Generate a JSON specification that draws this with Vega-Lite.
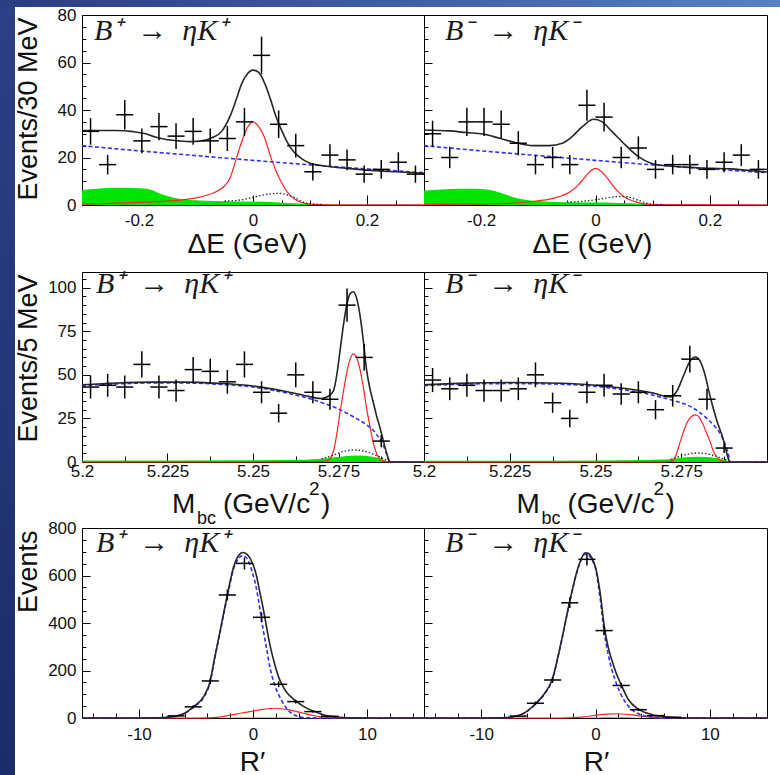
{
  "$schema": "https://vega.github.io/schema/vega-lite/v6.json",
  "padding": 0,
  "background": "white",
  "spacing": 0,
  "bounds": "flush",
  "config": {
    "font": "Liberation Sans",
    "view": {"stroke": "black", "strokeWidth": 1},
    "axis": {
      "domain": false, "grid": false,
      "labelFont": "Liberation Sans", "labelFontSize": 17, "labelColor": "#111",
      "labelFlush": false, "labelOverlap": false, "labelBound": false,
      "tickColor": "black", "tickWidth": 1,
      "titleFont": "Liberation Sans", "titleFontSize": 27, "titleFontWeight": "normal", "titleColor": "#111"
    }
  },
  "datasets": {
    "de_p_pts": [
      {"x": -0.285, "n": 31, "lo": 25.4, "hi": 36.6, "xlo": -0.3, "xhi": -0.27},
      {"x": -0.255, "n": 17, "lo": 12.9, "hi": 21.1, "xlo": -0.27, "xhi": -0.24},
      {"x": -0.225, "n": 38, "lo": 31.8, "hi": 44.2, "xlo": -0.24, "xhi": -0.21},
      {"x": -0.195, "n": 27, "lo": 21.8, "hi": 32.2, "xlo": -0.21, "xhi": -0.18},
      {"x": -0.165, "n": 33, "lo": 27.3, "hi": 38.7, "xlo": -0.18, "xhi": -0.15},
      {"x": -0.135, "n": 29, "lo": 23.6, "hi": 34.4, "xlo": -0.15, "xhi": -0.12},
      {"x": -0.105, "n": 31, "lo": 25.4, "hi": 36.6, "xlo": -0.12, "xhi": -0.09},
      {"x": -0.075, "n": 27, "lo": 21.8, "hi": 32.2, "xlo": -0.09, "xhi": -0.06},
      {"x": -0.045, "n": 28, "lo": 22.7, "hi": 33.3, "xlo": -0.06, "xhi": -0.03},
      {"x": -0.015, "n": 35, "lo": 29.1, "hi": 40.9, "xlo": -0.03, "xhi": 0},
      {"x": 0.015, "n": 63, "lo": 55.1, "hi": 70.9, "xlo": 0, "xhi": 0.03},
      {"x": 0.045, "n": 34, "lo": 28.2, "hi": 39.8, "xlo": 0.03, "xhi": 0.06},
      {"x": 0.075, "n": 25, "lo": 20, "hi": 30, "xlo": 0.06, "xhi": 0.09},
      {"x": 0.105, "n": 14, "lo": 10.3, "hi": 17.7, "xlo": 0.09, "xhi": 0.12},
      {"x": 0.135, "n": 21, "lo": 16.4, "hi": 25.6, "xlo": 0.12, "xhi": 0.15},
      {"x": 0.165, "n": 19, "lo": 14.6, "hi": 23.4, "xlo": 0.15, "xhi": 0.18},
      {"x": 0.195, "n": 13, "lo": 9.4, "hi": 16.6, "xlo": 0.18, "xhi": 0.21},
      {"x": 0.225, "n": 15, "lo": 11.1, "hi": 18.9, "xlo": 0.21, "xhi": 0.24},
      {"x": 0.255, "n": 18, "lo": 13.8, "hi": 22.2, "xlo": 0.24, "xhi": 0.27},
      {"x": 0.285, "n": 13, "lo": 9.4, "hi": 16.6, "xlo": 0.27, "xhi": 0.3}
    ],
    "de_m_pts": [
      {"x": -0.285, "n": 30, "lo": 24.5, "hi": 35.5, "xlo": -0.3, "xhi": -0.27},
      {"x": -0.255, "n": 20, "lo": 15.5, "hi": 24.5, "xlo": -0.27, "xhi": -0.24},
      {"x": -0.225, "n": 35, "lo": 29.1, "hi": 40.9, "xlo": -0.24, "xhi": -0.21},
      {"x": -0.195, "n": 35, "lo": 29.1, "hi": 40.9, "xlo": -0.21, "xhi": -0.18},
      {"x": -0.165, "n": 34, "lo": 28.2, "hi": 39.8, "xlo": -0.18, "xhi": -0.15},
      {"x": -0.135, "n": 26, "lo": 20.9, "hi": 31.1, "xlo": -0.15, "xhi": -0.12},
      {"x": -0.105, "n": 17, "lo": 12.9, "hi": 21.1, "xlo": -0.12, "xhi": -0.09},
      {"x": -0.075, "n": 20, "lo": 15.5, "hi": 24.5, "xlo": -0.09, "xhi": -0.06},
      {"x": -0.045, "n": 17, "lo": 12.9, "hi": 21.1, "xlo": -0.06, "xhi": -0.03},
      {"x": -0.015, "n": 42, "lo": 35.5, "hi": 48.5, "xlo": -0.03, "xhi": 0},
      {"x": 0.015, "n": 37, "lo": 30.9, "hi": 43.1, "xlo": 0, "xhi": 0.03},
      {"x": 0.045, "n": 20, "lo": 15.5, "hi": 24.5, "xlo": 0.03, "xhi": 0.06},
      {"x": 0.075, "n": 24, "lo": 19.1, "hi": 28.9, "xlo": 0.06, "xhi": 0.09},
      {"x": 0.105, "n": 15, "lo": 11.1, "hi": 18.9, "xlo": 0.09, "xhi": 0.12},
      {"x": 0.135, "n": 17, "lo": 12.9, "hi": 21.1, "xlo": 0.12, "xhi": 0.15},
      {"x": 0.165, "n": 17, "lo": 12.9, "hi": 21.1, "xlo": 0.15, "xhi": 0.18},
      {"x": 0.195, "n": 15, "lo": 11.1, "hi": 18.9, "xlo": 0.18, "xhi": 0.21},
      {"x": 0.225, "n": 18, "lo": 13.8, "hi": 22.2, "xlo": 0.21, "xhi": 0.24},
      {"x": 0.255, "n": 21, "lo": 16.4, "hi": 25.6, "xlo": 0.24, "xhi": 0.27},
      {"x": 0.285, "n": 15, "lo": 11.1, "hi": 18.9, "xlo": 0.27, "xhi": 0.3}
    ],
    "mbc_p_pts": [
      {"x": 5.2025, "n": 43, "lo": 36.4, "hi": 49.6, "xlo": 5.2, "xhi": 5.205},
      {"x": 5.2075, "n": 44, "lo": 37.4, "hi": 50.6, "xlo": 5.205, "xhi": 5.21},
      {"x": 5.2125, "n": 43, "lo": 36.4, "hi": 49.6, "xlo": 5.21, "xhi": 5.215},
      {"x": 5.2175, "n": 56, "lo": 48.5, "hi": 63.5, "xlo": 5.215, "xhi": 5.22},
      {"x": 5.2225, "n": 43, "lo": 36.4, "hi": 49.6, "xlo": 5.22, "xhi": 5.225},
      {"x": 5.2275, "n": 41, "lo": 34.6, "hi": 47.4, "xlo": 5.225, "xhi": 5.23},
      {"x": 5.2325, "n": 53, "lo": 45.7, "hi": 60.3, "xlo": 5.23, "xhi": 5.235},
      {"x": 5.2375, "n": 52, "lo": 44.8, "hi": 59.2, "xlo": 5.235, "xhi": 5.24},
      {"x": 5.2425, "n": 46, "lo": 39.2, "hi": 52.8, "xlo": 5.24, "xhi": 5.245},
      {"x": 5.2475, "n": 56, "lo": 48.5, "hi": 63.5, "xlo": 5.245, "xhi": 5.25},
      {"x": 5.2525, "n": 40, "lo": 33.7, "hi": 46.3, "xlo": 5.25, "xhi": 5.255},
      {"x": 5.2575, "n": 28, "lo": 22.7, "hi": 33.3, "xlo": 5.255, "xhi": 5.26},
      {"x": 5.2625, "n": 50, "lo": 42.9, "hi": 57.1, "xlo": 5.26, "xhi": 5.265},
      {"x": 5.2675, "n": 40, "lo": 33.7, "hi": 46.3, "xlo": 5.265, "xhi": 5.27},
      {"x": 5.2725, "n": 36, "lo": 30, "hi": 42, "xlo": 5.27, "xhi": 5.275},
      {"x": 5.2775, "n": 90, "lo": 80.5, "hi": 99.5, "xlo": 5.275, "xhi": 5.28},
      {"x": 5.2825, "n": 60, "lo": 52.3, "hi": 67.7, "xlo": 5.28, "xhi": 5.285},
      {"x": 5.2875, "n": 12, "lo": 8.5, "hi": 15.5, "xlo": 5.285, "xhi": 5.29}
    ],
    "mbc_m_pts": [
      {"x": 5.2025, "n": 47, "lo": 40.1, "hi": 53.9, "xlo": 5.2, "xhi": 5.205},
      {"x": 5.2075, "n": 42, "lo": 35.5, "hi": 48.5, "xlo": 5.205, "xhi": 5.21},
      {"x": 5.2125, "n": 44, "lo": 37.4, "hi": 50.6, "xlo": 5.21, "xhi": 5.215},
      {"x": 5.2175, "n": 41, "lo": 34.6, "hi": 47.4, "xlo": 5.215, "xhi": 5.22},
      {"x": 5.2225, "n": 41, "lo": 34.6, "hi": 47.4, "xlo": 5.22, "xhi": 5.225},
      {"x": 5.2275, "n": 42, "lo": 35.5, "hi": 48.5, "xlo": 5.225, "xhi": 5.23},
      {"x": 5.2325, "n": 50, "lo": 42.9, "hi": 57.1, "xlo": 5.23, "xhi": 5.235},
      {"x": 5.2375, "n": 34, "lo": 28.2, "hi": 39.8, "xlo": 5.235, "xhi": 5.24},
      {"x": 5.2425, "n": 25, "lo": 20, "hi": 30, "xlo": 5.24, "xhi": 5.245},
      {"x": 5.2475, "n": 40, "lo": 33.7, "hi": 46.3, "xlo": 5.245, "xhi": 5.25},
      {"x": 5.2525, "n": 44, "lo": 37.4, "hi": 50.6, "xlo": 5.25, "xhi": 5.255},
      {"x": 5.2575, "n": 39, "lo": 32.8, "hi": 45.2, "xlo": 5.255, "xhi": 5.26},
      {"x": 5.2625, "n": 40, "lo": 33.7, "hi": 46.3, "xlo": 5.26, "xhi": 5.265},
      {"x": 5.2675, "n": 30, "lo": 24.5, "hi": 35.5, "xlo": 5.265, "xhi": 5.27},
      {"x": 5.2725, "n": 38, "lo": 31.8, "hi": 44.2, "xlo": 5.27, "xhi": 5.275},
      {"x": 5.2775, "n": 59, "lo": 51.3, "hi": 66.7, "xlo": 5.275, "xhi": 5.28},
      {"x": 5.2825, "n": 36, "lo": 30, "hi": 42, "xlo": 5.28, "xhi": 5.285},
      {"x": 5.2875, "n": 8, "lo": 5.2, "hi": 10.8, "xlo": 5.285, "xhi": 5.29}
    ],
    "r_p_pts": [
      {"x": -6.75, "n": 9, "lo": 6, "hi": 12, "xlo": -7.5, "xhi": -6},
      {"x": -5.25, "n": 47, "lo": 40.1, "hi": 53.9, "xlo": -6, "xhi": -4.5},
      {"x": -3.75, "n": 156, "lo": 143.5, "hi": 168.5, "xlo": -4.5, "xhi": -3},
      {"x": -2.25, "n": 518, "lo": 495.2, "hi": 540.8, "xlo": -3, "xhi": -1.5},
      {"x": -0.75, "n": 651, "lo": 625.5, "hi": 676.5, "xlo": -1.5, "xhi": 0},
      {"x": 0.75, "n": 424, "lo": 403.4, "hi": 444.6, "xlo": 0, "xhi": 1.5},
      {"x": 2.25, "n": 142, "lo": 130.1, "hi": 153.9, "xlo": 1.5, "xhi": 3},
      {"x": 3.75, "n": 69, "lo": 60.7, "hi": 77.3, "xlo": 3, "xhi": 4.5},
      {"x": 5.25, "n": 27, "lo": 21.8, "hi": 32.2, "xlo": 4.5, "xhi": 6},
      {"x": 6.75, "n": 7, "lo": 4.4, "hi": 9.6, "xlo": 6, "xhi": 7.5}
    ],
    "r_m_pts": [
      {"x": -6.75, "n": 8, "lo": 5.2, "hi": 10.8, "xlo": -7.5, "xhi": -6},
      {"x": -5.25, "n": 62, "lo": 54.1, "hi": 69.9, "xlo": -6, "xhi": -4.5},
      {"x": -3.75, "n": 160, "lo": 147.4, "hi": 172.6, "xlo": -4.5, "xhi": -3},
      {"x": -2.25, "n": 485, "lo": 463, "hi": 507, "xlo": -3, "xhi": -1.5},
      {"x": -0.75, "n": 668, "lo": 642.2, "hi": 693.8, "xlo": -1.5, "xhi": 0},
      {"x": 0.75, "n": 368, "lo": 348.8, "hi": 387.2, "xlo": 0, "xhi": 1.5},
      {"x": 2.25, "n": 137, "lo": 125.3, "hi": 148.7, "xlo": 1.5, "xhi": 3},
      {"x": 3.75, "n": 35, "lo": 29.1, "hi": 40.9, "xlo": 3, "xhi": 4.5},
      {"x": 5.25, "n": 10, "lo": 6.8, "hi": 13.2, "xlo": 4.5, "xhi": 6},
      {"x": 6.75, "n": 3, "lo": 1.3, "hi": 4.7, "xlo": 6, "xhi": 7.5}
    ],
    "de_p_fit": [
      {"c": "b", "x": -0.3, "y": 25.0}, {"c": "b", "x": -0.2, "y": 22.8}, {"c": "b", "x": -0.1, "y": 20.8}, {"c": "b", "x": 0, "y": 18.8},
      {"c": "b", "x": 0.1, "y": 16.9}, {"c": "b", "x": 0.2, "y": 15.2}, {"c": "b", "x": 0.3, "y": 13.6},
      {"c": "s", "x": -0.3, "y": 0.4}, {"c": "s", "x": -0.25, "y": 0.7}, {"c": "s", "x": -0.2, "y": 1.1}, {"c": "s", "x": -0.15, "y": 1.6},
      {"c": "s", "x": -0.12, "y": 2.3}, {"c": "s", "x": -0.1, "y": 3.0}, {"c": "s", "x": -0.08, "y": 4.2}, {"c": "s", "x": -0.065, "y": 5.6},
      {"c": "s", "x": -0.05, "y": 8}, {"c": "s", "x": -0.04, "y": 11.5}, {"c": "s", "x": -0.03, "y": 19}, {"c": "s", "x": -0.02, "y": 26.5},
      {"c": "s", "x": -0.01, "y": 32.5}, {"c": "s", "x": 0, "y": 35}, {"c": "s", "x": 0.01, "y": 33}, {"c": "s", "x": 0.02, "y": 28.5},
      {"c": "s", "x": 0.03, "y": 21}, {"c": "s", "x": 0.04, "y": 14.5}, {"c": "s", "x": 0.05, "y": 9.5}, {"c": "s", "x": 0.06, "y": 5.5},
      {"c": "s", "x": 0.07, "y": 3}, {"c": "s", "x": 0.08, "y": 1.6}, {"c": "s", "x": 0.09, "y": 0.8}, {"c": "s", "x": 0.1, "y": 0.4},
      {"c": "s", "x": 0.12, "y": 0.15}, {"c": "s", "x": 0.15, "y": 0.05}, {"c": "s", "x": 0.3, "y": 0.05},
      {"c": "g", "x": -0.3, "y": 6.3}, {"c": "g", "x": -0.27, "y": 6.9}, {"c": "g", "x": -0.24, "y": 7.3}, {"c": "g", "x": -0.21, "y": 7.2},
      {"c": "g", "x": -0.19, "y": 6.9}, {"c": "g", "x": -0.175, "y": 6.1}, {"c": "g", "x": -0.165, "y": 5.0}, {"c": "g", "x": -0.15, "y": 3.8},
      {"c": "g", "x": -0.135, "y": 2.8}, {"c": "g", "x": -0.11, "y": 2.1}, {"c": "g", "x": -0.08, "y": 1.8}, {"c": "g", "x": -0.05, "y": 1.6},
      {"c": "g", "x": -0.02, "y": 1.5}, {"c": "g", "x": 0, "y": 1.5}, {"c": "g", "x": 0.03, "y": 1.3}, {"c": "g", "x": 0.06, "y": 0.8},
      {"c": "g", "x": 0.1, "y": 0.4}, {"c": "g", "x": 0.15, "y": 0.2}, {"c": "g", "x": 0.2, "y": 0.1}, {"c": "g", "x": 0.3, "y": 0.05},
      {"c": "p", "x": -0.05, "y": 1.6}, {"c": "p", "x": -0.02, "y": 2.2}, {"c": "p", "x": 0, "y": 3.2}, {"c": "p", "x": 0.02, "y": 4.3},
      {"c": "p", "x": 0.045, "y": 4.9}, {"c": "p", "x": 0.06, "y": 4.3}, {"c": "p", "x": 0.075, "y": 2.8}, {"c": "p", "x": 0.09, "y": 1.0},
      {"c": "p", "x": 0.1, "y": 0.5}, {"c": "p", "x": 0.12, "y": 0.2},
      {"c": "t", "x": -0.3, "y": 31.3}, {"c": "t", "x": -0.27, "y": 31.4}, {"c": "t", "x": -0.24, "y": 31.4}, {"c": "t", "x": -0.21, "y": 30.9},
      {"c": "t", "x": -0.19, "y": 30.1}, {"c": "t", "x": -0.17, "y": 28.5}, {"c": "t", "x": -0.15, "y": 27.5}, {"c": "t", "x": -0.13, "y": 27.0},
      {"c": "t", "x": -0.11, "y": 26.7}, {"c": "t", "x": -0.09, "y": 27.0}, {"c": "t", "x": -0.07, "y": 28.5}, {"c": "t", "x": -0.055, "y": 31},
      {"c": "t", "x": -0.04, "y": 37.5}, {"c": "t", "x": -0.03, "y": 44}, {"c": "t", "x": -0.02, "y": 51}, {"c": "t", "x": -0.01, "y": 55.2},
      {"c": "t", "x": 0, "y": 56.8}, {"c": "t", "x": 0.01, "y": 55.8}, {"c": "t", "x": 0.02, "y": 51.5}, {"c": "t", "x": 0.03, "y": 45},
      {"c": "t", "x": 0.04, "y": 37.5}, {"c": "t", "x": 0.05, "y": 31.5}, {"c": "t", "x": 0.06, "y": 26.5}, {"c": "t", "x": 0.07, "y": 22.8},
      {"c": "t", "x": 0.08, "y": 20.5}, {"c": "t", "x": 0.09, "y": 18.8}, {"c": "t", "x": 0.1, "y": 17.6}, {"c": "t", "x": 0.12, "y": 16.6},
      {"c": "t", "x": 0.14, "y": 16.0}, {"c": "t", "x": 0.17, "y": 15.3}, {"c": "t", "x": 0.2, "y": 14.7}, {"c": "t", "x": 0.25, "y": 14.0},
      {"c": "t", "x": 0.3, "y": 13.4}
    ],
    "de_m_fit": [
      {"c": "b", "x": -0.3, "y": 25.0}, {"c": "b", "x": -0.2, "y": 22.8}, {"c": "b", "x": -0.1, "y": 20.8}, {"c": "b", "x": 0, "y": 18.8},
      {"c": "b", "x": 0.1, "y": 16.9}, {"c": "b", "x": 0.2, "y": 15.2}, {"c": "b", "x": 0.3, "y": 13.6},
      {"c": "s", "x": -0.3, "y": 0.2}, {"c": "s", "x": -0.2, "y": 0.5}, {"c": "s", "x": -0.15, "y": 0.7}, {"c": "s", "x": -0.1, "y": 1.8},
      {"c": "s", "x": -0.08, "y": 2.5}, {"c": "s", "x": -0.064, "y": 3.5}, {"c": "s", "x": -0.05, "y": 4.8}, {"c": "s", "x": -0.04, "y": 6.3},
      {"c": "s", "x": -0.03, "y": 8.5}, {"c": "s", "x": -0.02, "y": 11.3}, {"c": "s", "x": -0.01, "y": 14}, {"c": "s", "x": 0, "y": 15.4},
      {"c": "s", "x": 0.01, "y": 14.2}, {"c": "s", "x": 0.02, "y": 11.5}, {"c": "s", "x": 0.03, "y": 8.3}, {"c": "s", "x": 0.04, "y": 5.5},
      {"c": "s", "x": 0.05, "y": 3.5}, {"c": "s", "x": 0.06, "y": 2.2}, {"c": "s", "x": 0.07, "y": 1.3}, {"c": "s", "x": 0.08, "y": 0.7},
      {"c": "s", "x": 0.1, "y": 0.2}, {"c": "s", "x": 0.3, "y": 0.05},
      {"c": "g", "x": -0.3, "y": 6.0}, {"c": "g", "x": -0.27, "y": 6.5}, {"c": "g", "x": -0.24, "y": 6.8}, {"c": "g", "x": -0.21, "y": 6.8},
      {"c": "g", "x": -0.19, "y": 6.5}, {"c": "g", "x": -0.175, "y": 5.8}, {"c": "g", "x": -0.16, "y": 4.6}, {"c": "g", "x": -0.145, "y": 3.4},
      {"c": "g", "x": -0.13, "y": 2.5}, {"c": "g", "x": -0.11, "y": 1.8}, {"c": "g", "x": -0.08, "y": 1.4}, {"c": "g", "x": -0.05, "y": 1.2},
      {"c": "g", "x": 0, "y": 1.1}, {"c": "g", "x": 0.03, "y": 1.0}, {"c": "g", "x": 0.06, "y": 0.7}, {"c": "g", "x": 0.1, "y": 0.3},
      {"c": "g", "x": 0.15, "y": 0.15}, {"c": "g", "x": 0.3, "y": 0.05},
      {"c": "p", "x": -0.05, "y": 1.2}, {"c": "p", "x": -0.02, "y": 1.6}, {"c": "p", "x": 0, "y": 2.2}, {"c": "p", "x": 0.02, "y": 3.0},
      {"c": "p", "x": 0.045, "y": 3.6}, {"c": "p", "x": 0.06, "y": 3.2}, {"c": "p", "x": 0.075, "y": 2.0}, {"c": "p", "x": 0.09, "y": 0.8},
      {"c": "p", "x": 0.1, "y": 0.4}, {"c": "p", "x": 0.12, "y": 0.15},
      {"c": "t", "x": -0.3, "y": 31.6}, {"c": "t", "x": -0.255, "y": 31.2}, {"c": "t", "x": -0.226, "y": 30.5}, {"c": "t", "x": -0.197, "y": 29.9},
      {"c": "t", "x": -0.168, "y": 28.1}, {"c": "t", "x": -0.139, "y": 26.2}, {"c": "t", "x": -0.11, "y": 25}, {"c": "t", "x": -0.081, "y": 25},
      {"c": "t", "x": -0.058, "y": 26}, {"c": "t", "x": -0.041, "y": 28.8}, {"c": "t", "x": -0.023, "y": 33}, {"c": "t", "x": -0.003, "y": 36.1},
      {"c": "t", "x": 0.011, "y": 35.1}, {"c": "t", "x": 0.029, "y": 30.9}, {"c": "t", "x": 0.052, "y": 25.3}, {"c": "t", "x": 0.075, "y": 20.4},
      {"c": "t", "x": 0.098, "y": 17.5}, {"c": "t", "x": 0.121, "y": 16.6}, {"c": "t", "x": 0.179, "y": 15.7}, {"c": "t", "x": 0.237, "y": 15.2},
      {"c": "t", "x": 0.295, "y": 14}, {"c": "t", "x": 0.3, "y": 13.9}
    ],
    "mbc_p_fit": [
      {"c": "b", "x": 5.2, "y": 43.8}, {"c": "b", "x": 5.21, "y": 44.8}, {"c": "b", "x": 5.22, "y": 45.3}, {"c": "b", "x": 5.23, "y": 45.3},
      {"c": "b", "x": 5.24, "y": 44.6}, {"c": "b", "x": 5.25, "y": 43.0}, {"c": "b", "x": 5.255, "y": 41.5}, {"c": "b", "x": 5.26, "y": 39.5},
      {"c": "b", "x": 5.265, "y": 37.2}, {"c": "b", "x": 5.27, "y": 34.2}, {"c": "b", "x": 5.275, "y": 30.4}, {"c": "b", "x": 5.28, "y": 25.2},
      {"c": "b", "x": 5.2832, "y": 21.3}, {"c": "b", "x": 5.285, "y": 18.5}, {"c": "b", "x": 5.2871, "y": 13}, {"c": "b", "x": 5.288, "y": 10},
      {"c": "b", "x": 5.289, "y": 5}, {"c": "b", "x": 5.2895, "y": 2.5}, {"c": "b", "x": 5.29, "y": 0}, {"c": "b", "x": 5.3, "y": 0},
      {"c": "s", "x": 5.2, "y": 0}, {"c": "s", "x": 5.25, "y": 0}, {"c": "s", "x": 5.27, "y": 0.2}, {"c": "s", "x": 5.272, "y": 1},
      {"c": "s", "x": 5.2735, "y": 6}, {"c": "s", "x": 5.2745, "y": 16}, {"c": "s", "x": 5.2754, "y": 28}, {"c": "s", "x": 5.2764, "y": 40},
      {"c": "s", "x": 5.2774, "y": 51}, {"c": "s", "x": 5.2784, "y": 59}, {"c": "s", "x": 5.2793, "y": 62}, {"c": "s", "x": 5.2803, "y": 60},
      {"c": "s", "x": 5.2813, "y": 53}, {"c": "s", "x": 5.2823, "y": 42.5}, {"c": "s", "x": 5.2832, "y": 31}, {"c": "s", "x": 5.2842, "y": 20.4},
      {"c": "s", "x": 5.2852, "y": 10.8}, {"c": "s", "x": 5.2866, "y": 3}, {"c": "s", "x": 5.2881, "y": 0.5}, {"c": "s", "x": 5.29, "y": 0},
      {"c": "s", "x": 5.3, "y": 0},
      {"c": "g", "x": 5.2, "y": 0.8}, {"c": "g", "x": 5.25, "y": 1.0}, {"c": "g", "x": 5.265, "y": 1.3}, {"c": "g", "x": 5.27, "y": 1.8},
      {"c": "g", "x": 5.275, "y": 3}, {"c": "g", "x": 5.28, "y": 3.8}, {"c": "g", "x": 5.285, "y": 3}, {"c": "g", "x": 5.288, "y": 1.5},
      {"c": "g", "x": 5.29, "y": 0}, {"c": "g", "x": 5.3, "y": 0},
      {"c": "p", "x": 5.27, "y": 1.8}, {"c": "p", "x": 5.273, "y": 3.5}, {"c": "p", "x": 5.276, "y": 5.8}, {"c": "p", "x": 5.2795, "y": 6.9},
      {"c": "p", "x": 5.283, "y": 6}, {"c": "p", "x": 5.286, "y": 3.8}, {"c": "p", "x": 5.288, "y": 2}, {"c": "p", "x": 5.29, "y": 0},
      {"c": "t", "x": 5.2, "y": 44.3}, {"c": "t", "x": 5.21, "y": 45.3}, {"c": "t", "x": 5.22, "y": 45.8}, {"c": "t", "x": 5.23, "y": 45.8},
      {"c": "t", "x": 5.24, "y": 45.1}, {"c": "t", "x": 5.25, "y": 43.6}, {"c": "t", "x": 5.26, "y": 40.3}, {"c": "t", "x": 5.265, "y": 38.2},
      {"c": "t", "x": 5.27, "y": 36.4}, {"c": "t", "x": 5.272, "y": 37.7}, {"c": "t", "x": 5.2735, "y": 40.6}, {"c": "t", "x": 5.2745, "y": 50},
      {"c": "t", "x": 5.2754, "y": 63}, {"c": "t", "x": 5.2764, "y": 78}, {"c": "t", "x": 5.2774, "y": 90}, {"c": "t", "x": 5.2784, "y": 96.5},
      {"c": "t", "x": 5.2793, "y": 97.7}, {"c": "t", "x": 5.2803, "y": 94}, {"c": "t", "x": 5.2813, "y": 84}, {"c": "t", "x": 5.2823, "y": 69},
      {"c": "t", "x": 5.2832, "y": 53}, {"c": "t", "x": 5.2842, "y": 42}, {"c": "t", "x": 5.2852, "y": 34}, {"c": "t", "x": 5.2862, "y": 26},
      {"c": "t", "x": 5.2871, "y": 20}, {"c": "t", "x": 5.288, "y": 13}, {"c": "t", "x": 5.2891, "y": 5}, {"c": "t", "x": 5.29, "y": 0},
      {"c": "t", "x": 5.3, "y": 0}
    ],
    "mbc_m_fit": [
      {"c": "b", "x": 5.2, "y": 43.8}, {"c": "b", "x": 5.21, "y": 44.6}, {"c": "b", "x": 5.225, "y": 45}, {"c": "b", "x": 5.24, "y": 44.6},
      {"c": "b", "x": 5.25, "y": 43.4}, {"c": "b", "x": 5.261, "y": 40.6}, {"c": "b", "x": 5.2717, "y": 35.8}, {"c": "b", "x": 5.2776, "y": 31.9},
      {"c": "b", "x": 5.2824, "y": 25.2}, {"c": "b", "x": 5.2845, "y": 21}, {"c": "b", "x": 5.2863, "y": 16.5}, {"c": "b", "x": 5.2882, "y": 7.9},
      {"c": "b", "x": 5.2888, "y": 4}, {"c": "b", "x": 5.2892, "y": 0}, {"c": "b", "x": 5.3, "y": 0},
      {"c": "s", "x": 5.2, "y": 0}, {"c": "s", "x": 5.25, "y": 0}, {"c": "s", "x": 5.27, "y": 0.1}, {"c": "s", "x": 5.2723, "y": 0.5},
      {"c": "s", "x": 5.2735, "y": 4}, {"c": "s", "x": 5.2746, "y": 11}, {"c": "s", "x": 5.2756, "y": 17}, {"c": "s", "x": 5.2766, "y": 22.3},
      {"c": "s", "x": 5.2779, "y": 26}, {"c": "s", "x": 5.2791, "y": 27}, {"c": "s", "x": 5.2803, "y": 25.5}, {"c": "s", "x": 5.2814, "y": 21.3},
      {"c": "s", "x": 5.2824, "y": 16.5}, {"c": "s", "x": 5.2834, "y": 11.7}, {"c": "s", "x": 5.2843, "y": 6.5}, {"c": "s", "x": 5.2853, "y": 3},
      {"c": "s", "x": 5.2863, "y": 1}, {"c": "s", "x": 5.2875, "y": 0.2}, {"c": "s", "x": 5.29, "y": 0}, {"c": "s", "x": 5.3, "y": 0},
      {"c": "g", "x": 5.2, "y": 0.7}, {"c": "g", "x": 5.25, "y": 0.9}, {"c": "g", "x": 5.27, "y": 1.5}, {"c": "g", "x": 5.275, "y": 2.5},
      {"c": "g", "x": 5.28, "y": 3}, {"c": "g", "x": 5.285, "y": 2.3}, {"c": "g", "x": 5.288, "y": 1}, {"c": "g", "x": 5.29, "y": 0},
      {"c": "g", "x": 5.3, "y": 0},
      {"c": "p", "x": 5.272, "y": 1.5}, {"c": "p", "x": 5.275, "y": 3.5}, {"c": "p", "x": 5.2795, "y": 5.2}, {"c": "p", "x": 5.284, "y": 4},
      {"c": "p", "x": 5.287, "y": 2}, {"c": "p", "x": 5.289, "y": 0.5}, {"c": "p", "x": 5.29, "y": 0},
      {"c": "t", "x": 5.2, "y": 44.3}, {"c": "t", "x": 5.21, "y": 45.1}, {"c": "t", "x": 5.225, "y": 45.6}, {"c": "t", "x": 5.24, "y": 45.2},
      {"c": "t", "x": 5.25, "y": 44}, {"c": "t", "x": 5.2669, "y": 39.5}, {"c": "t", "x": 5.2717, "y": 37.3}, {"c": "t", "x": 5.2737, "y": 40.6},
      {"c": "t", "x": 5.2756, "y": 49.2}, {"c": "t", "x": 5.2776, "y": 57.9}, {"c": "t", "x": 5.2791, "y": 60.2}, {"c": "t", "x": 5.2805, "y": 57.9},
      {"c": "t", "x": 5.2819, "y": 50.2}, {"c": "t", "x": 5.2834, "y": 37.7}, {"c": "t", "x": 5.2853, "y": 24.2}, {"c": "t", "x": 5.2873, "y": 12.7},
      {"c": "t", "x": 5.2887, "y": 2.1}, {"c": "t", "x": 5.2892, "y": 0}, {"c": "t", "x": 5.3, "y": 0}
    ],
    "r_p_fit": [
      {"c": "t", "x": -15, "y": 0}, {"c": "t", "x": -10, "y": 0}, {"c": "t", "x": -8.5, "y": 0.5}, {"c": "t", "x": -7.8, "y": 2},
      {"c": "t", "x": -6.9, "y": 6}, {"c": "t", "x": -6, "y": 20}, {"c": "t", "x": -5.25, "y": 47}, {"c": "t", "x": -4.3, "y": 92},
      {"c": "t", "x": -3.75, "y": 156}, {"c": "t", "x": -3.4, "y": 245}, {"c": "t", "x": -2.87, "y": 370}, {"c": "t", "x": -2.25, "y": 518},
      {"c": "t", "x": -1.7, "y": 637}, {"c": "t", "x": -1.3, "y": 682}, {"c": "t", "x": -0.9, "y": 697}, {"c": "t", "x": -0.5, "y": 688},
      {"c": "t", "x": -0.25, "y": 672}, {"c": "t", "x": 0.3, "y": 600}, {"c": "t", "x": 0.6, "y": 530}, {"c": "t", "x": 0.9, "y": 460},
      {"c": "t", "x": 1.2, "y": 380}, {"c": "t", "x": 1.5, "y": 305}, {"c": "t", "x": 1.8, "y": 245}, {"c": "t", "x": 2.25, "y": 172},
      {"c": "t", "x": 2.6, "y": 135}, {"c": "t", "x": 3, "y": 105}, {"c": "t", "x": 3.5, "y": 82}, {"c": "t", "x": 3.75, "y": 72},
      {"c": "t", "x": 4.5, "y": 47}, {"c": "t", "x": 5.25, "y": 30}, {"c": "t", "x": 6.1, "y": 15}, {"c": "t", "x": 7, "y": 6},
      {"c": "t", "x": 7.85, "y": 2}, {"c": "t", "x": 9, "y": 0.5}, {"c": "t", "x": 10, "y": 0}, {"c": "t", "x": 15, "y": 0},
      {"c": "b", "x": -15, "y": 0}, {"c": "b", "x": -10, "y": 0}, {"c": "b", "x": -8.5, "y": 0.5}, {"c": "b", "x": -7.8, "y": 2},
      {"c": "b", "x": -6.9, "y": 6}, {"c": "b", "x": -6, "y": 19}, {"c": "b", "x": -5.25, "y": 45}, {"c": "b", "x": -4.3, "y": 89},
      {"c": "b", "x": -3.75, "y": 152}, {"c": "b", "x": -3.4, "y": 240}, {"c": "b", "x": -2.87, "y": 364}, {"c": "b", "x": -2.25, "y": 511},
      {"c": "b", "x": -1.7, "y": 628}, {"c": "b", "x": -1.3, "y": 670}, {"c": "b", "x": -0.9, "y": 684}, {"c": "b", "x": -0.5, "y": 670},
      {"c": "b", "x": -0.1, "y": 620}, {"c": "b", "x": 0.3, "y": 545}, {"c": "b", "x": 0.6, "y": 460}, {"c": "b", "x": 0.9, "y": 370},
      {"c": "b", "x": 1.2, "y": 290}, {"c": "b", "x": 1.5, "y": 210}, {"c": "b", "x": 1.9, "y": 140}, {"c": "b", "x": 2.5, "y": 75},
      {"c": "b", "x": 3.2, "y": 27}, {"c": "b", "x": 3.9, "y": 7}, {"c": "b", "x": 4.7, "y": 1}, {"c": "b", "x": 6, "y": 0},
      {"c": "b", "x": 15, "y": 0},
      {"c": "s", "x": -15, "y": 0}, {"c": "s", "x": -5, "y": 0}, {"c": "s", "x": -4, "y": 0.5}, {"c": "s", "x": -3, "y": 4},
      {"c": "s", "x": -2, "y": 12}, {"c": "s", "x": -1, "y": 21}, {"c": "s", "x": -0.26, "y": 27}, {"c": "s", "x": 0.9, "y": 36.5},
      {"c": "s", "x": 2, "y": 41}, {"c": "s", "x": 3.2, "y": 34}, {"c": "s", "x": 4.4, "y": 20}, {"c": "s", "x": 5.5, "y": 8.5},
      {"c": "s", "x": 6.7, "y": 1.5}, {"c": "s", "x": 7.5, "y": 0.2}, {"c": "s", "x": 8, "y": 0}, {"c": "s", "x": 15, "y": 0},
      {"c": "g", "x": -15, "y": 0}, {"c": "g", "x": -4, "y": 0}, {"c": "g", "x": -2, "y": 1.5}, {"c": "g", "x": 0, "y": 2.5},
      {"c": "g", "x": 2, "y": 2.5}, {"c": "g", "x": 4, "y": 1.5}, {"c": "g", "x": 6, "y": 0.3}, {"c": "g", "x": 7, "y": 0},
      {"c": "g", "x": 15, "y": 0}
    ],
    "r_m_fit": [
      {"c": "t", "x": -15, "y": 0}, {"c": "t", "x": -10, "y": 0}, {"c": "t", "x": -8.5, "y": 0.5}, {"c": "t", "x": -7.5, "y": 3},
      {"c": "t", "x": -7, "y": 7}, {"c": "t", "x": -6.1, "y": 25}, {"c": "t", "x": -5.25, "y": 60}, {"c": "t", "x": -4.5, "y": 100},
      {"c": "t", "x": -3.8, "y": 160}, {"c": "t", "x": -3, "y": 320}, {"c": "t", "x": -2.23, "y": 497}, {"c": "t", "x": -1.5, "y": 637},
      {"c": "t", "x": -0.9, "y": 696}, {"c": "t", "x": -0.6, "y": 693}, {"c": "t", "x": -0.3, "y": 672}, {"c": "t", "x": 0, "y": 635},
      {"c": "t", "x": 0.4, "y": 530}, {"c": "t", "x": 0.77, "y": 385}, {"c": "t", "x": 1.1, "y": 300}, {"c": "t", "x": 1.42, "y": 245},
      {"c": "t", "x": 1.8, "y": 190}, {"c": "t", "x": 2.2, "y": 145}, {"c": "t", "x": 2.87, "y": 78}, {"c": "t", "x": 3.75, "y": 37},
      {"c": "t", "x": 4.9, "y": 15}, {"c": "t", "x": 6.05, "y": 5}, {"c": "t", "x": 7, "y": 1.5}, {"c": "t", "x": 8, "y": 0.3},
      {"c": "t", "x": 9, "y": 0}, {"c": "t", "x": 15, "y": 0},
      {"c": "b", "x": -15, "y": 0}, {"c": "b", "x": -10, "y": 0}, {"c": "b", "x": -8.5, "y": 0.5}, {"c": "b", "x": -7.5, "y": 3},
      {"c": "b", "x": -7, "y": 7}, {"c": "b", "x": -6.1, "y": 24}, {"c": "b", "x": -5.25, "y": 58}, {"c": "b", "x": -4.5, "y": 98},
      {"c": "b", "x": -3.8, "y": 158}, {"c": "b", "x": -3, "y": 317}, {"c": "b", "x": -2.23, "y": 494}, {"c": "b", "x": -1.5, "y": 633},
      {"c": "b", "x": -0.9, "y": 690}, {"c": "b", "x": -0.6, "y": 686}, {"c": "b", "x": -0.3, "y": 665}, {"c": "b", "x": 0, "y": 630},
      {"c": "b", "x": 0.4, "y": 505}, {"c": "b", "x": 0.77, "y": 360}, {"c": "b", "x": 1.1, "y": 270}, {"c": "b", "x": 1.42, "y": 205},
      {"c": "b", "x": 1.8, "y": 148}, {"c": "b", "x": 2.2, "y": 102}, {"c": "b", "x": 2.87, "y": 50}, {"c": "b", "x": 3.75, "y": 18},
      {"c": "b", "x": 4.9, "y": 4}, {"c": "b", "x": 6, "y": 0.5}, {"c": "b", "x": 7, "y": 0}, {"c": "b", "x": 15, "y": 0},
      {"c": "s", "x": -15, "y": 0}, {"c": "s", "x": -3, "y": 0}, {"c": "s", "x": -2, "y": 1.5}, {"c": "s", "x": -1, "y": 5},
      {"c": "s", "x": 0, "y": 11}, {"c": "s", "x": 1, "y": 16}, {"c": "s", "x": 1.9, "y": 18}, {"c": "s", "x": 3, "y": 14},
      {"c": "s", "x": 4, "y": 8}, {"c": "s", "x": 5, "y": 3}, {"c": "s", "x": 6, "y": 0.8}, {"c": "s", "x": 7, "y": 0},
      {"c": "s", "x": 15, "y": 0},
      {"c": "g", "x": -15, "y": 0}, {"c": "g", "x": -2, "y": 0}, {"c": "g", "x": -1, "y": 0.5}, {"c": "g", "x": 0, "y": 2},
      {"c": "g", "x": 2, "y": 3}, {"c": "g", "x": 3, "y": 2}, {"c": "g", "x": 4, "y": 0.8}, {"c": "g", "x": 5, "y": 0},
      {"c": "g", "x": 15, "y": 0}
    ]
  },
  "vconcat": [
    {
      "width": 780, "height": 7,
      "view": {"stroke": null},
      "data": {"values": [{}]},
      "mark": {"type": "rect", "fill": {"gradient": "linear", "x1": 0, "y1": 0, "x2": 1, "y2": 0, "stops": [{"offset": 0, "color": "#283e80"}, {"offset": 1, "color": "#5b7ec4"}]}}
    },
    {
      "columns": 4,
      "spacing": 0,
      "bounds": "flush",
      "concat": [
        {"width": 15, "height": 8, "view": {"stroke": null}, "data": {"values": [{}]}, "mark": {"type": "rect", "fill": "#2b4184"}},
        {"width": 67, "height": 1, "view": {"stroke": null}, "data": {"values": []}, "mark": "point"},
        {"width": 1, "height": 1, "view": {"stroke": null}, "data": {"values": []}, "mark": "point"},
        {"width": 1, "height": 1, "view": {"stroke": null}, "data": {"values": []}, "mark": "point"},

        {"width": 15, "height": 190, "view": {"stroke": null}, "data": {"values": [{}]},
          "mark": {"type": "rect", "fill": {"gradient": "linear", "x1": 0, "y1": 0, "x2": 0, "y2": 1, "stops": [{"offset": 0, "color": "#2b4184"}, {"offset": 1, "color": "#273b7d"}]}}},
        {"width": 1, "height": 1, "view": {"stroke": null}, "data": {"values": []}, "mark": "point"},
        {
          "width": 342, "height": 190,
          "resolve": {"axis": {"x": "independent", "y": "independent"}},
          "encoding": {
            "x": {"field": "x", "type": "quantitative", "scale": {"domain": [-0.3, 0.3], "nice": false, "zero": false}, "axis": null},
            "y": {"field": "y", "type": "quantitative", "scale": {"domain": [0, 80], "nice": false}, "axis": null}
          },
          "layer": [
            {"data": {"name": "de_p_fit"}, "transform": [{"filter": "datum.c == 'g'"}], "mark": {"type": "area", "fill": "#00e400", "interpolate": "monotone"},
              "encoding": {
                "x": {"field": "x", "type": "quantitative", "axis": {"orient": "bottom", "title": "ΔE (GeV)", "titleX": 165, "titleY": 47, "titleBaseline": "alphabetic", "titleFontSize": 28,
                  "values": [-0.2, 0, 0.2], "labelExpr": "toString(datum.value)", "tickSize": -10, "labelPadding": 17}},
                "y": {"field": "y", "type": "quantitative", "axis": {"orient": "left", "title": "Events/30 MeV", "titleX": -46, "titleY": 2, "titleAngle": 270, "titleAlign": "right", "titleBaseline": "alphabetic",
                  "values": [0, 20, 40, 60, 80], "labelExpr": "toString(datum.value)", "tickSize": -8, "labelPadding": 14}}}},
            {"data": {"name": "de_p_fit"}, "transform": [{"filter": "datum.c == 's'"}], "mark": {"type": "line", "stroke": "#ff2424", "strokeWidth": 1.2, "interpolate": "monotone"},
              "encoding": {
                "x": {"field": "x", "type": "quantitative", "axis": {"orient": "bottom", "title": null, "labels": false, "tickSize": -5,
                  "values": [-0.3, -0.25, -0.15, -0.1, -0.05, 0.05, 0.1, 0.15, 0.25, 0.3]}},
                "y": {"field": "y", "type": "quantitative", "axis": {"orient": "left", "title": null, "labels": false, "tickSize": -4,
                  "values": [5, 10, 15, 25, 30, 35, 45, 50, 55, 65, 70, 75]}}}},
            {"data": {"name": "de_p_fit"}, "transform": [{"filter": "datum.c == 'p'"}], "mark": {"type": "line", "stroke": "#333333", "strokeWidth": 1.4, "strokeDash": [1.5, 2], "interpolate": "monotone"}},
            {"data": {"name": "de_p_fit"}, "transform": [{"filter": "datum.c == 'b'"}], "mark": {"type": "line", "stroke": "#3030ff", "strokeWidth": 1.6, "strokeDash": [4, 2.5], "interpolate": "monotone"}},
            {"data": {"name": "de_p_fit"}, "transform": [{"filter": "datum.c == 't'"}], "mark": {"type": "line", "stroke": "#262626", "strokeWidth": 1.6, "interpolate": "monotone"}},
            {"data": {"name": "de_p_pts"}, "mark": {"type": "rule", "stroke": "black", "strokeWidth": 1.5},
              "encoding": {"y": {"field": "lo", "type": "quantitative", "axis": null}, "y2": {"field": "hi"}}},
            {"data": {"name": "de_p_pts"}, "mark": {"type": "rule", "stroke": "black", "strokeWidth": 1.5},
              "encoding": {"x": {"field": "xlo", "type": "quantitative", "axis": null}, "x2": {"field": "xhi"}, "y": {"field": "n", "type": "quantitative", "axis": null}}},
            {"data": {"values": [{"x": -0.3, "y": 80, "t": "B⁺\u2002→\u2002ηK⁺"}]},
              "mark": {"type": "text", "align": "left", "baseline": "alphabetic", "dx": 12, "dy": 25, "font": "Liberation Serif", "fontStyle": "italic", "fontSize": 30, "fill": "#1a1a1a"},
              "encoding": {"text": {"field": "t", "type": "nominal"}}}
          ]
        },
        {
          "width": 343, "height": 190,
          "resolve": {"axis": {"x": "independent", "y": "independent"}},
          "encoding": {
            "x": {"field": "x", "type": "quantitative", "scale": {"domain": [-0.3, 0.3], "nice": false, "zero": false}, "axis": null},
            "y": {"field": "y", "type": "quantitative", "scale": {"domain": [0, 80], "nice": false}, "axis": null}
          },
          "layer": [
            {"data": {"name": "de_m_fit"}, "transform": [{"filter": "datum.c == 'g'"}], "mark": {"type": "area", "fill": "#00e400", "interpolate": "monotone"},
              "encoding": {
                "x": {"field": "x", "type": "quantitative", "axis": {"orient": "bottom", "title": "ΔE (GeV)", "titleX": 168, "titleY": 47, "titleBaseline": "alphabetic", "titleFontSize": 28,
                  "values": [-0.2, 0, 0.2], "labelExpr": "toString(datum.value)", "tickSize": -10, "labelPadding": 17}},
                "y": {"field": "y", "type": "quantitative", "axis": {"orient": "left", "title": null, "labels": false, "values": [0, 20, 40, 60, 80], "tickSize": -8}}}},
            {"data": {"name": "de_m_fit"}, "transform": [{"filter": "datum.c == 's'"}], "mark": {"type": "line", "stroke": "#ff2424", "strokeWidth": 1.2, "interpolate": "monotone"},
              "encoding": {
                "x": {"field": "x", "type": "quantitative", "axis": {"orient": "bottom", "title": null, "labels": false, "tickSize": -5,
                  "values": [-0.3, -0.25, -0.15, -0.1, -0.05, 0.05, 0.1, 0.15, 0.25, 0.3]}},
                "y": {"field": "y", "type": "quantitative", "axis": {"orient": "left", "title": null, "labels": false, "tickSize": -4,
                  "values": [5, 10, 15, 25, 30, 35, 45, 50, 55, 65, 70, 75]}}}},
            {"data": {"name": "de_m_fit"}, "transform": [{"filter": "datum.c == 'p'"}], "mark": {"type": "line", "stroke": "#333333", "strokeWidth": 1.4, "strokeDash": [1.5, 2], "interpolate": "monotone"}},
            {"data": {"name": "de_m_fit"}, "transform": [{"filter": "datum.c == 'b'"}], "mark": {"type": "line", "stroke": "#3030ff", "strokeWidth": 1.6, "strokeDash": [4, 2.5], "interpolate": "monotone"}},
            {"data": {"name": "de_m_fit"}, "transform": [{"filter": "datum.c == 't'"}], "mark": {"type": "line", "stroke": "#262626", "strokeWidth": 1.6, "interpolate": "monotone"}},
            {"data": {"name": "de_m_pts"}, "mark": {"type": "rule", "stroke": "black", "strokeWidth": 1.5},
              "encoding": {"y": {"field": "lo", "type": "quantitative", "axis": null}, "y2": {"field": "hi"}}},
            {"data": {"name": "de_m_pts"}, "mark": {"type": "rule", "stroke": "black", "strokeWidth": 1.5},
              "encoding": {"x": {"field": "xlo", "type": "quantitative", "axis": null}, "x2": {"field": "xhi"}, "y": {"field": "n", "type": "quantitative", "axis": null}}},
            {"data": {"values": [{"x": -0.3, "y": 80, "t": "B⁻\u2002→\u2002ηK⁻"}]},
              "mark": {"type": "text", "align": "left", "baseline": "alphabetic", "dx": 21, "dy": 25, "font": "Liberation Serif", "fontStyle": "italic", "fontSize": 30, "fill": "#1a1a1a"},
              "encoding": {"text": {"field": "t", "type": "nominal"}}}
          ]
        },

        {"width": 15, "height": 67, "view": {"stroke": null}, "data": {"values": [{}]},
          "mark": {"type": "rect", "fill": {"gradient": "linear", "x1": 0, "y1": 0, "x2": 0, "y2": 1, "stops": [{"offset": 0, "color": "#273b7d"}, {"offset": 1, "color": "#253a7b"}]}}},
        {"width": 1, "height": 1, "view": {"stroke": null}, "data": {"values": []}, "mark": "point"},
        {"width": 1, "height": 1, "view": {"stroke": null}, "data": {"values": []}, "mark": "point"},
        {"width": 1, "height": 1, "view": {"stroke": null}, "data": {"values": []}, "mark": "point"},

        {"width": 15, "height": 190, "view": {"stroke": null}, "data": {"values": [{}]},
          "mark": {"type": "rect", "fill": {"gradient": "linear", "x1": 0, "y1": 0, "x2": 0, "y2": 1, "stops": [{"offset": 0, "color": "#253a7b"}, {"offset": 1, "color": "#223574"}]}}},
        {"width": 1, "height": 1, "view": {"stroke": null}, "data": {"values": []}, "mark": "point"},
        {
          "width": 342, "height": 190,
          "resolve": {"axis": {"x": "independent", "y": "independent"}},
          "encoding": {
            "x": {"field": "x", "type": "quantitative", "scale": {"domain": [5.2, 5.3], "nice": false, "zero": false}, "axis": null},
            "y": {"field": "y", "type": "quantitative", "scale": {"domain": [0, 109], "nice": false}, "axis": null}
          },
          "layer": [
            {"data": {"name": "mbc_p_fit"}, "transform": [{"filter": "datum.c == 'g'"}], "mark": {"type": "area", "fill": "#00e400", "interpolate": "monotone"},
              "encoding": {
                "x": {"field": "x", "type": "quantitative", "axis": {"orient": "bottom", "title": null,
                  "values": [5.2, 5.225, 5.25, 5.275, 5.3], "labelExpr": "datum.value < 5.29 ? toString(datum.value) : ''", "tickSize": -9, "labelPadding": 10}},
                "y": {"field": "y", "type": "quantitative", "axis": {"orient": "left", "title": "Events/5 MeV", "titleX": -46, "titleY": 2, "titleAngle": 270, "titleAlign": "right", "titleBaseline": "alphabetic",
                  "values": [0, 25, 50, 75, 100], "labelExpr": "toString(datum.value)", "tickSize": -8, "labelPadding": 14}}}},
            {"data": {"name": "mbc_p_fit"}, "transform": [{"filter": "datum.c == 's'"}], "mark": {"type": "line", "stroke": "#ff2424", "strokeWidth": 1.2, "interpolate": "monotone"},
              "encoding": {
                "x": {"field": "x", "type": "quantitative", "axis": {"orient": "bottom", "title": null, "labels": false, "tickSize": -6,
                  "values": [5.2125, 5.2375, 5.2625, 5.2875]}},
                "y": {"field": "y", "type": "quantitative", "axis": {"orient": "left", "title": null, "labels": false, "tickSize": -4,
                  "values": [5, 10, 15, 20, 30, 35, 40, 45, 55, 60, 65, 70, 80, 85, 90, 95, 105]}}}},
            {"data": {"name": "mbc_p_fit"}, "transform": [{"filter": "datum.c == 'p'"}], "mark": {"type": "line", "stroke": "#333333", "strokeWidth": 1.4, "strokeDash": [1.5, 2], "interpolate": "monotone"}},
            {"data": {"name": "mbc_p_fit"}, "transform": [{"filter": "datum.c == 'b'"}], "mark": {"type": "line", "stroke": "#3030ff", "strokeWidth": 1.6, "strokeDash": [4, 2.5], "interpolate": "monotone"}},
            {"data": {"name": "mbc_p_fit"}, "transform": [{"filter": "datum.c == 't'"}], "mark": {"type": "line", "stroke": "#262626", "strokeWidth": 1.6, "interpolate": "monotone"}},
            {"data": {"name": "mbc_p_pts"}, "mark": {"type": "rule", "stroke": "black", "strokeWidth": 1.5},
              "encoding": {"y": {"field": "lo", "type": "quantitative", "axis": null}, "y2": {"field": "hi"}}},
            {"data": {"name": "mbc_p_pts"}, "mark": {"type": "rule", "stroke": "black", "strokeWidth": 1.5},
              "encoding": {"x": {"field": "xlo", "type": "quantitative", "axis": null}, "x2": {"field": "xhi"}, "y": {"field": "n", "type": "quantitative", "axis": null}}},
            {"data": {"values": [{"x": 5.2, "y": 109, "t": "B⁺\u2002→\u2002ηK⁺"}]},
              "mark": {"type": "text", "align": "left", "baseline": "alphabetic", "dx": 14, "dy": 21, "font": "Liberation Serif", "fontStyle": "italic", "fontSize": 30, "fill": "#1a1a1a"},
              "encoding": {"text": {"field": "t", "type": "nominal"}}},
            {"data": {"values": [{"x": 5.25, "y": 0, "t": "M"}]},
              "mark": {"type": "text", "align": "left", "baseline": "alphabetic", "dx": -81, "dy": 51, "fontSize": 28, "fill": "#111"},
              "encoding": {"text": {"field": "t", "type": "nominal"}}},
            {"data": {"values": [{"x": 5.25, "y": 0, "t": "bc"}]},
              "mark": {"type": "text", "align": "left", "baseline": "alphabetic", "dx": -56, "dy": 62, "fontSize": 18, "fill": "#111"},
              "encoding": {"text": {"field": "t", "type": "nominal"}}},
            {"data": {"values": [{"x": 5.25, "y": 0, "t": "(GeV/c"}]},
              "mark": {"type": "text", "align": "left", "baseline": "alphabetic", "dx": -30, "dy": 51, "fontSize": 28, "fill": "#111"},
              "encoding": {"text": {"field": "t", "type": "nominal"}}},
            {"data": {"values": [{"x": 5.25, "y": 0, "t": "2"}]},
              "mark": {"type": "text", "align": "left", "baseline": "alphabetic", "dx": 56, "dy": 33, "fontSize": 19, "fill": "#111"},
              "encoding": {"text": {"field": "t", "type": "nominal"}}},
            {"data": {"values": [{"x": 5.25, "y": 0, "t": ")"}]},
              "mark": {"type": "text", "align": "left", "baseline": "alphabetic", "dx": 68, "dy": 51, "fontSize": 28, "fill": "#111"},
              "encoding": {"text": {"field": "t", "type": "nominal"}}}
          ]
        },
        {
          "width": 343, "height": 190,
          "resolve": {"axis": {"x": "independent", "y": "independent"}},
          "encoding": {
            "x": {"field": "x", "type": "quantitative", "scale": {"domain": [5.2, 5.3], "nice": false, "zero": false}, "axis": null},
            "y": {"field": "y", "type": "quantitative", "scale": {"domain": [0, 109], "nice": false}, "axis": null}
          },
          "layer": [
            {"data": {"name": "mbc_m_fit"}, "transform": [{"filter": "datum.c == 'g'"}], "mark": {"type": "area", "fill": "#00e400", "interpolate": "monotone"},
              "encoding": {
                "x": {"field": "x", "type": "quantitative", "axis": {"orient": "bottom", "title": null,
                  "values": [5.2, 5.225, 5.25, 5.275, 5.3], "labelExpr": "datum.value < 5.29 ? toString(datum.value) : ''", "tickSize": -9, "labelPadding": 10}},
                "y": {"field": "y", "type": "quantitative", "axis": {"orient": "left", "title": null, "labels": false, "values": [0, 25, 50, 75, 100], "tickSize": -8}}}},
            {"data": {"name": "mbc_m_fit"}, "transform": [{"filter": "datum.c == 's'"}], "mark": {"type": "line", "stroke": "#ff2424", "strokeWidth": 1.2, "interpolate": "monotone"},
              "encoding": {
                "x": {"field": "x", "type": "quantitative", "axis": {"orient": "bottom", "title": null, "labels": false, "tickSize": -6,
                  "values": [5.2125, 5.2375, 5.2625, 5.2875]}},
                "y": {"field": "y", "type": "quantitative", "axis": {"orient": "left", "title": null, "labels": false, "tickSize": -4,
                  "values": [5, 10, 15, 20, 30, 35, 40, 45, 55, 60, 65, 70, 80, 85, 90, 95, 105]}}}},
            {"data": {"name": "mbc_m_fit"}, "transform": [{"filter": "datum.c == 'p'"}], "mark": {"type": "line", "stroke": "#333333", "strokeWidth": 1.4, "strokeDash": [1.5, 2], "interpolate": "monotone"}},
            {"data": {"name": "mbc_m_fit"}, "transform": [{"filter": "datum.c == 'b'"}], "mark": {"type": "line", "stroke": "#3030ff", "strokeWidth": 1.6, "strokeDash": [4, 2.5], "interpolate": "monotone"}},
            {"data": {"name": "mbc_m_fit"}, "transform": [{"filter": "datum.c == 't'"}], "mark": {"type": "line", "stroke": "#262626", "strokeWidth": 1.6, "interpolate": "monotone"}},
            {"data": {"name": "mbc_m_pts"}, "mark": {"type": "rule", "stroke": "black", "strokeWidth": 1.5},
              "encoding": {"y": {"field": "lo", "type": "quantitative", "axis": null}, "y2": {"field": "hi"}}},
            {"data": {"name": "mbc_m_pts"}, "mark": {"type": "rule", "stroke": "black", "strokeWidth": 1.5},
              "encoding": {"x": {"field": "xlo", "type": "quantitative", "axis": null}, "x2": {"field": "xhi"}, "y": {"field": "n", "type": "quantitative", "axis": null}}},
            {"data": {"values": [{"x": 5.2, "y": 109, "t": "B⁻\u2002→\u2002ηK⁻"}]},
              "mark": {"type": "text", "align": "left", "baseline": "alphabetic", "dx": 21, "dy": 21, "font": "Liberation Serif", "fontStyle": "italic", "fontSize": 30, "fill": "#1a1a1a"},
              "encoding": {"text": {"field": "t", "type": "nominal"}}},
            {"data": {"values": [{"x": 5.25, "y": 0, "t": "M"}]},
              "mark": {"type": "text", "align": "left", "baseline": "alphabetic", "dx": -79, "dy": 51, "fontSize": 28, "fill": "#111"},
              "encoding": {"text": {"field": "t", "type": "nominal"}}},
            {"data": {"values": [{"x": 5.25, "y": 0, "t": "bc"}]},
              "mark": {"type": "text", "align": "left", "baseline": "alphabetic", "dx": -54, "dy": 62, "fontSize": 18, "fill": "#111"},
              "encoding": {"text": {"field": "t", "type": "nominal"}}},
            {"data": {"values": [{"x": 5.25, "y": 0, "t": "(GeV/c"}]},
              "mark": {"type": "text", "align": "left", "baseline": "alphabetic", "dx": -28, "dy": 51, "fontSize": 28, "fill": "#111"},
              "encoding": {"text": {"field": "t", "type": "nominal"}}},
            {"data": {"values": [{"x": 5.25, "y": 0, "t": "2"}]},
              "mark": {"type": "text", "align": "left", "baseline": "alphabetic", "dx": 58, "dy": 33, "fontSize": 19, "fill": "#111"},
              "encoding": {"text": {"field": "t", "type": "nominal"}}},
            {"data": {"values": [{"x": 5.25, "y": 0, "t": ")"}]},
              "mark": {"type": "text", "align": "left", "baseline": "alphabetic", "dx": 70, "dy": 51, "fontSize": 28, "fill": "#111"},
              "encoding": {"text": {"field": "t", "type": "nominal"}}}
          ]
        },

        {"width": 15, "height": 66, "view": {"stroke": null}, "data": {"values": [{}]},
          "mark": {"type": "rect", "fill": {"gradient": "linear", "x1": 0, "y1": 0, "x2": 0, "y2": 1, "stops": [{"offset": 0, "color": "#223574"}, {"offset": 1, "color": "#203371"}]}}},
        {"width": 1, "height": 1, "view": {"stroke": null}, "data": {"values": []}, "mark": "point"},
        {"width": 1, "height": 1, "view": {"stroke": null}, "data": {"values": []}, "mark": "point"},
        {"width": 1, "height": 1, "view": {"stroke": null}, "data": {"values": []}, "mark": "point"},

        {"width": 15, "height": 190, "view": {"stroke": null}, "data": {"values": [{}]},
          "mark": {"type": "rect", "fill": {"gradient": "linear", "x1": 0, "y1": 0, "x2": 0, "y2": 1, "stops": [{"offset": 0, "color": "#203371"}, {"offset": 1, "color": "#1c2e6a"}]}}},
        {"width": 1, "height": 1, "view": {"stroke": null}, "data": {"values": []}, "mark": "point"},
        {
          "width": 342, "height": 190,
          "resolve": {"axis": {"x": "independent", "y": "independent"}},
          "encoding": {
            "x": {"field": "x", "type": "quantitative", "scale": {"domain": [-15, 15], "nice": false, "zero": false}, "axis": null},
            "y": {"field": "y", "type": "quantitative", "scale": {"domain": [0, 800], "nice": false}, "axis": null}
          },
          "layer": [
            {"data": {"name": "r_p_fit"}, "transform": [{"filter": "datum.c == 'g'"}], "mark": {"type": "area", "fill": "#00e400", "interpolate": "monotone"},
              "encoding": {
                "x": {"field": "x", "type": "quantitative", "axis": {"orient": "bottom", "title": "R′", "titleX": 170, "titleY": 52, "titleBaseline": "alphabetic", "titleFontSize": 28,
                  "values": [-10, 0, 10], "labelExpr": "toString(datum.value)", "tickSize": -9, "labelPadding": 17}},
                "y": {"field": "y", "type": "quantitative", "axis": {"orient": "left", "title": "Events", "titleX": -46, "titleY": 2, "titleAngle": 270, "titleAlign": "right", "titleBaseline": "alphabetic",
                  "values": [0, 200, 400, 600, 800], "labelExpr": "toString(datum.value)", "tickSize": -8, "labelPadding": 14}}}},
            {"data": {"name": "r_p_fit"}, "transform": [{"filter": "datum.c == 's'"}], "mark": {"type": "line", "stroke": "#ff2424", "strokeWidth": 1.2, "interpolate": "monotone"},
              "encoding": {
                "x": {"field": "x", "type": "quantitative", "axis": {"orient": "bottom", "title": null, "labels": false, "tickSize": -5,
                  "values": [-14, -12, -8, -6, -4, -2, 2, 4, 6, 8, 12, 14]}},
                "y": {"field": "y", "type": "quantitative", "axis": {"orient": "left", "title": null, "labels": false, "tickSize": -4,
                  "values": [50, 100, 150, 250, 300, 350, 450, 500, 550, 650, 700, 750]}}}},
            {"data": {"name": "r_p_fit"}, "transform": [{"filter": "datum.c == 'b'"}], "mark": {"type": "line", "stroke": "#3030ff", "strokeWidth": 1.6, "strokeDash": [4, 2.5], "interpolate": "monotone"}},
            {"data": {"name": "r_p_fit"}, "transform": [{"filter": "datum.c == 't'"}], "mark": {"type": "line", "stroke": "#262626", "strokeWidth": 1.6, "interpolate": "monotone"}},
            {"data": {"name": "r_p_pts"}, "mark": {"type": "rule", "stroke": "black", "strokeWidth": 1.5},
              "encoding": {"y": {"field": "lo", "type": "quantitative", "axis": null}, "y2": {"field": "hi"}}},
            {"data": {"name": "r_p_pts"}, "mark": {"type": "rule", "stroke": "black", "strokeWidth": 1.5},
              "encoding": {"x": {"field": "xlo", "type": "quantitative", "axis": null}, "x2": {"field": "xhi"}, "y": {"field": "n", "type": "quantitative", "axis": null}}},
            {"data": {"values": [{"x": -15, "y": 800, "t": "B⁺\u2002→\u2002ηK⁺"}]},
              "mark": {"type": "text", "align": "left", "baseline": "alphabetic", "dx": 14, "dy": 24, "font": "Liberation Serif", "fontStyle": "italic", "fontSize": 30, "fill": "#1a1a1a"},
              "encoding": {"text": {"field": "t", "type": "nominal"}}}
          ]
        },
        {
          "width": 343, "height": 190,
          "resolve": {"axis": {"x": "independent", "y": "independent"}},
          "encoding": {
            "x": {"field": "x", "type": "quantitative", "scale": {"domain": [-15, 15], "nice": false, "zero": false}, "axis": null},
            "y": {"field": "y", "type": "quantitative", "scale": {"domain": [0, 800], "nice": false}, "axis": null}
          },
          "layer": [
            {"data": {"name": "r_m_fit"}, "transform": [{"filter": "datum.c == 'g'"}], "mark": {"type": "area", "fill": "#00e400", "interpolate": "monotone"},
              "encoding": {
                "x": {"field": "x", "type": "quantitative", "axis": {"orient": "bottom", "title": "R′", "titleX": 172, "titleY": 52, "titleBaseline": "alphabetic", "titleFontSize": 28,
                  "values": [-10, 0, 10], "labelExpr": "toString(datum.value)", "tickSize": -9, "labelPadding": 17}},
                "y": {"field": "y", "type": "quantitative", "axis": {"orient": "left", "title": null, "labels": false, "values": [0, 200, 400, 600, 800], "tickSize": -8}}}},
            {"data": {"name": "r_m_fit"}, "transform": [{"filter": "datum.c == 's'"}], "mark": {"type": "line", "stroke": "#ff2424", "strokeWidth": 1.2, "interpolate": "monotone"},
              "encoding": {
                "x": {"field": "x", "type": "quantitative", "axis": {"orient": "bottom", "title": null, "labels": false, "tickSize": -5,
                  "values": [-14, -12, -8, -6, -4, -2, 2, 4, 6, 8, 12, 14]}},
                "y": {"field": "y", "type": "quantitative", "axis": {"orient": "left", "title": null, "labels": false, "tickSize": -4,
                  "values": [50, 100, 150, 250, 300, 350, 450, 500, 550, 650, 700, 750]}}}},
            {"data": {"name": "r_m_fit"}, "transform": [{"filter": "datum.c == 'b'"}], "mark": {"type": "line", "stroke": "#3030ff", "strokeWidth": 1.6, "strokeDash": [4, 2.5], "interpolate": "monotone"}},
            {"data": {"name": "r_m_fit"}, "transform": [{"filter": "datum.c == 't'"}], "mark": {"type": "line", "stroke": "#262626", "strokeWidth": 1.6, "interpolate": "monotone"}},
            {"data": {"name": "r_m_pts"}, "mark": {"type": "rule", "stroke": "black", "strokeWidth": 1.5},
              "encoding": {"y": {"field": "lo", "type": "quantitative", "axis": null}, "y2": {"field": "hi"}}},
            {"data": {"name": "r_m_pts"}, "mark": {"type": "rule", "stroke": "black", "strokeWidth": 1.5},
              "encoding": {"x": {"field": "xlo", "type": "quantitative", "axis": null}, "x2": {"field": "xhi"}, "y": {"field": "n", "type": "quantitative", "axis": null}}},
            {"data": {"values": [{"x": -15, "y": 800, "t": "B⁻\u2002→\u2002ηK⁻"}]},
              "mark": {"type": "text", "align": "left", "baseline": "alphabetic", "dx": 21, "dy": 24, "font": "Liberation Serif", "fontStyle": "italic", "fontSize": 30, "fill": "#1a1a1a"},
              "encoding": {"text": {"field": "t", "type": "nominal"}}}
          ]
        },

        {"width": 15, "height": 57, "view": {"stroke": null}, "data": {"values": [{}]},
          "mark": {"type": "rect", "fill": {"gradient": "linear", "x1": 0, "y1": 0, "x2": 0, "y2": 1, "stops": [{"offset": 0, "color": "#1c2e6a"}, {"offset": 1, "color": "#1b2c68"}]}}},
        {"width": 1, "height": 1, "view": {"stroke": null}, "data": {"values": []}, "mark": "point"},
        {"width": 1, "height": 1, "view": {"stroke": null}, "data": {"values": []}, "mark": "point"},
        {"width": 1, "height": 1, "view": {"stroke": null}, "data": {"values": []}, "mark": "point"}
      ]
    }
  ]
}
